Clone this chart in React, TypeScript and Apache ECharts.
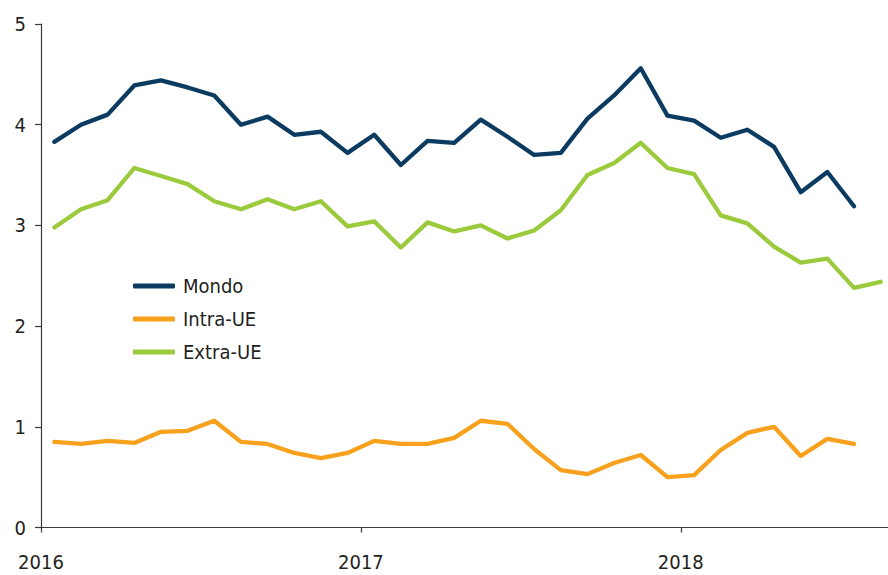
import React, { useEffect, useRef } from "react";
import * as echarts from "echarts";

const seriesNames = ["Mondo", "Intra-UE", "Extra-UE"];
const startYear = 2016;
// monthly values, Jan 2016 onwards
const mondo = [3.83, 4.0, 4.1, 4.39, 4.44, 4.37, 4.29, 4.0, 4.08, 3.9, 3.93, 3.72, 3.9, 3.6, 3.84, 3.82, 4.05, 3.88, 3.7, 3.72, 4.06, 4.29, 4.56, 4.09, 4.04, 3.87, 3.95, 3.78, 3.33, 3.53, 3.19];
const intraUE = [0.85, 0.83, 0.86, 0.84, 0.95, 0.96, 1.06, 0.85, 0.83, 0.74, 0.69, 0.74, 0.86, 0.83, 0.83, 0.89, 1.06, 1.03, 0.78, 0.57, 0.53, 0.64, 0.72, 0.5, 0.52, 0.77, 0.94, 1.0, 0.71, 0.88, 0.83];
const extraUE = [2.98, 3.16, 3.25, 3.57, 3.49, 3.41, 3.24, 3.16, 3.26, 3.16, 3.24, 2.99, 3.04, 2.78, 3.03, 2.94, 3.0, 2.87, 2.95, 3.15, 3.5, 3.62, 3.82, 3.57, 3.51, 3.1, 3.02, 2.79, 2.63, 2.67, 2.38, 2.44];
const colors = ["#0b3b60", "#f7a11d", "#9bca3c"];

const FONT = "'Liberation Sans Narrow', 'DejaVu Sans Condensed', 'Arial Narrow', sans-serif";
const TEXT = "#231f20";
const AXIS = "#3a3a3a";

const toPoints = (vals: number[]) => vals.map((v, i) => [i + 0.5, v]);

export default function App() {
  const ref = useRef<HTMLDivElement>(null);
  useEffect(() => {
    document.body.style.margin = "0";
    if (!ref.current) return;
    const chart = echarts.init(ref.current, null, { renderer: "svg" });
    const data = [mondo, intraUE, extraUE];
    chart.setOption({
      animation: false,
      backgroundColor: "#ffffff",
      grid: { left: 41, width: 853, top: 24, bottom: 47.5, containLabel: false, outerBoundsMode: "none" },
      legend: {
        orient: "vertical",
        left: 128,
        top: 271,
        itemWidth: 42,
        itemHeight: 5,
        itemGap: 13,
        icon: "roundRect",
        textStyle: { fontFamily: FONT, fontSize: 20, color: TEXT, padding: [0, 0, 0, 3] },
        data: seriesNames,
      },
      xAxis: {
        type: "value",
        min: 0,
        max: 32,
        interval: 12,
        splitLine: { show: false },
        axisLine: { lineStyle: { color: AXIS, width: 1.2 } },
        axisTick: { show: true, length: 5, lineStyle: { color: AXIS, width: 1.2 } },
        axisLabel: {
          margin: 24,
          fontFamily: FONT,
          fontSize: 20,
          color: TEXT,
          formatter: (v: number) => (v % 12 === 0 ? String(startYear + v / 12) : ""),
        },
      },
      yAxis: {
        type: "value",
        min: 0,
        max: 5,
        interval: 1,
        splitLine: { show: false },
        axisLine: { show: true, lineStyle: { color: AXIS, width: 1.2 } },
        axisTick: { show: true, length: 6, lineStyle: { color: AXIS, width: 1.2 } },
        axisLabel: { margin: 15, fontFamily: FONT, fontSize: 20, color: TEXT },
      },
      series: seriesNames.map((name, k) => ({
        name,
        type: "line",
        data: toPoints(data[k]),
        symbol: "none",
        color: colors[k],
        lineStyle: { width: 4.3, color: colors[k], cap: "round", join: "round" },
        itemStyle: { color: colors[k] },
      })),
    });
    return () => chart.dispose();
  }, []);
  return <div ref={ref} style={{ width: 888, height: 575 }} />;
}
